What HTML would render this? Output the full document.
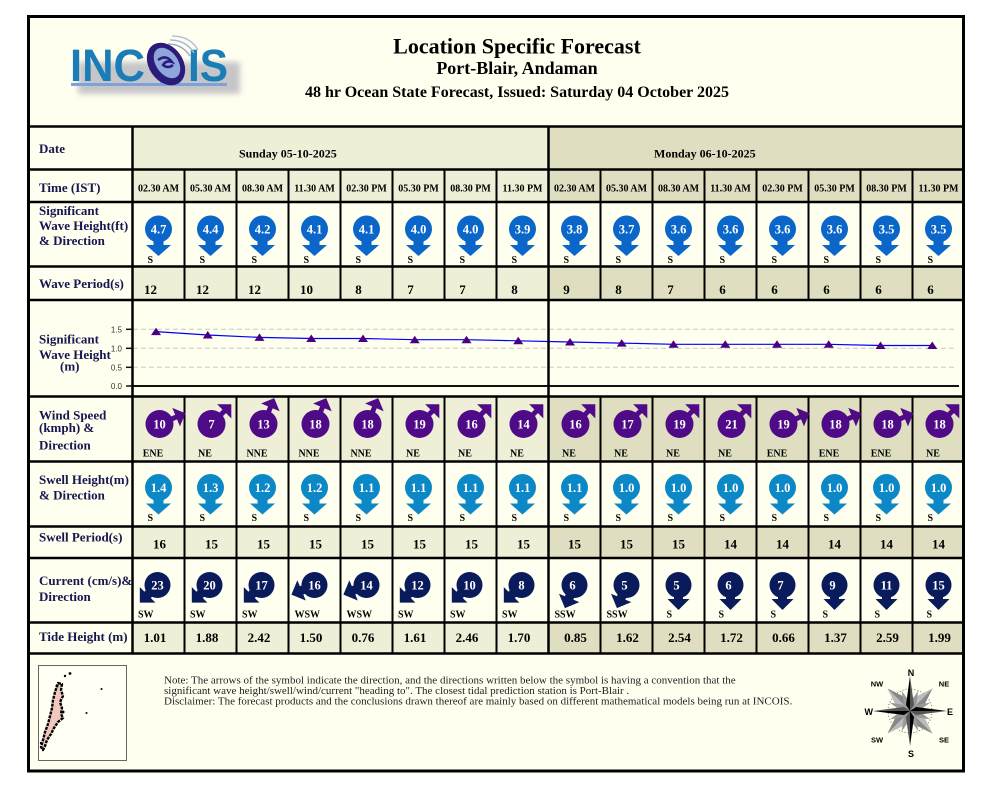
<!DOCTYPE html>
<html><head><meta charset="utf-8"><style>
html,body{margin:0;padding:0;background:#fff;width:1000px;height:800px;overflow:hidden}
svg{display:block}
</style></head><body>
<svg width="1000" height="800" viewBox="0 0 1000 800" xmlns="http://www.w3.org/2000/svg" font-family="'Liberation Serif', serif">
<defs>
 <filter id="bl" x="-20%" y="-50%" width="140%" height="200%"><feGaussianBlur stdDeviation="3"/></filter>
 <g id="bg"><circle r="13.5"/><rect x="-5" y="5" width="10" height="12"/><polygon points="-12.5,16 12.5,16 0,27"/></g>
 <g id="cu"><circle r="13"/><rect x="-4.5" y="5" width="9" height="10"/><polygon points="-11,14 11,14 0,25"/></g>
 <g id="wd"><circle r="14"/><rect x="-2.5" y="5" width="5" height="15"/><polygon points="-10,18 10,18 0,28"/></g>
</defs>

<!-- frame background -->
<rect x="28.5" y="16.5" width="935" height="754.5" fill="#FFFFF0"/>

<!-- day-shaded rows -->
<g fill="#EFEED6">
 <rect x="132.5" y="126.5" width="416" height="75.5"/>
 <rect x="132.5" y="266.5" width="416" height="33.5"/>
 <rect x="132.5" y="396.5" width="416" height="65"/>
 <rect x="132.5" y="526.5" width="416" height="31.5"/>
 <rect x="132.5" y="622.5" width="416" height="31"/>
</g>
<g fill="#DFDEC0">
 <rect x="548.5" y="126.5" width="415" height="75.5"/>
 <rect x="548.5" y="266.5" width="415" height="33.5"/>
 <rect x="548.5" y="396.5" width="415" height="65"/>
 <rect x="548.5" y="526.5" width="415" height="31.5"/>
 <rect x="548.5" y="622.5" width="415" height="31"/>
</g>

<!-- logo -->
<g>
 <g filter="url(#bl)" fill="#b8b8c0" opacity="0.8">
  <rect x="78" y="62" width="162" height="32"/>
 </g>
 <text x="70" y="81" font-family="'Liberation Sans', sans-serif" font-weight="bold" font-size="45" fill="#1A7DB6" textLength="75" lengthAdjust="spacingAndGlyphs">INC</text>
 <text x="188" y="81" font-family="'Liberation Sans', sans-serif" font-weight="bold" font-size="45" fill="#1A7DB6" textLength="40" lengthAdjust="spacingAndGlyphs">IS</text>
 <rect x="71" y="83" width="156" height="3" fill="#7FA0D8"/>
 <rect x="160" y="78" width="8" height="8" fill="#7FA0D8"/>
 <path d="M168 44 q14 0 22 12" stroke="#9aa8d0" stroke-width="1.5" fill="none"/>
 <path d="M170 40 q16 0 24 13" stroke="#aab4d8" stroke-width="1.5" fill="none"/>
 <path d="M172 36 q18 0 26 14" stroke="#b8c0e0" stroke-width="1.5" fill="none"/>
 <ellipse cx="166" cy="64" rx="17" ry="23" transform="rotate(-35 166 64)" fill="#2B1B7B"/>
 <ellipse cx="167" cy="63" rx="11" ry="17" transform="rotate(-35 167 63)" fill="#8FA6DB"/>
 <path d="M158 60 q8 -6 14 2 q-6 -2 -9 3 q5 4 10 0" stroke="#2B1B7B" stroke-width="2.5" fill="none"/>
</g>

<!-- titles -->
<g font-weight="bold" fill="#000" text-anchor="middle">
 <text x="517" y="53.5" font-size="22">Location Specific Forecast</text>
 <text x="517" y="74" font-size="18">Port-Blair, Andaman</text>
 <text x="517" y="97" font-size="16">48 hr Ocean State Forecast, Issued: Saturday 04 October 2025</text>
</g>

<!-- chart -->
<g>
 <g stroke="#c8c8c8" stroke-width="1" stroke-dasharray="5,3">
  <line x1="133" y1="329.3" x2="957" y2="329.3"/>
  <line x1="133" y1="348.3" x2="957" y2="348.3"/>
  <line x1="133" y1="367.3" x2="957" y2="367.3"/>
 </g>
 <line x1="132" y1="386" x2="959" y2="386" stroke="#111" stroke-width="2"/>
 <g stroke="#111" stroke-width="1.5">
  <line x1="126" y1="329.3" x2="132" y2="329.3"/>
  <line x1="126" y1="348.3" x2="132" y2="348.3"/>
  <line x1="126" y1="367.3" x2="132" y2="367.3"/>
  <line x1="126" y1="386" x2="132" y2="386"/>
 </g>
 <g font-family="'Liberation Sans', sans-serif" font-size="8" fill="#333" text-anchor="end">
  <text x="122" y="332.3">1.5</text>
  <text x="122" y="351.3">1.0</text>
  <text x="122" y="370.3">0.5</text>
  <text x="122" y="389">0.0</text>
 </g>
 <polyline fill="none" stroke="#0000FF" stroke-width="1.2" points="156,331.6 207.75,335 259.5,337.4 311.25,338.5 363,338.5 414.75,339.7 466.5,339.7 518.25,340.8 570,342 621.75,343.1 673.5,344.3 725.25,344.3 777,344.3 828.75,344.3 880.5,345.5 932.25,345.5"/>
 <g fill="#4B0082">
  <polygon points="151,335.1 161,335.1 156,327.6"/>
  <polygon points="202.75,338.5 212.75,338.5 207.75,331"/>
  <polygon points="254.5,340.9 264.5,340.9 259.5,333.4"/>
  <polygon points="306.25,342 316.25,342 311.25,334.5"/>
  <polygon points="358,342 368,342 363,334.5"/>
  <polygon points="409.75,343.2 419.75,343.2 414.75,335.7"/>
  <polygon points="461.5,343.2 471.5,343.2 466.5,335.7"/>
  <polygon points="513.25,344.3 523.25,344.3 518.25,336.8"/>
  <polygon points="565,345.5 575,345.5 570,338"/>
  <polygon points="616.75,346.6 626.75,346.6 621.75,339.1"/>
  <polygon points="668.5,347.8 678.5,347.8 673.5,340.3"/>
  <polygon points="720.25,347.8 730.25,347.8 725.25,340.3"/>
  <polygon points="772,347.8 782,347.8 777,340.3"/>
  <polygon points="823.75,347.8 833.75,347.8 828.75,340.3"/>
  <polygon points="875.5,349 885.5,349 880.5,341.5"/>
  <polygon points="927.25,349 937.25,349 932.25,341.5"/>
 </g>
</g>

<!-- grid lines -->
<g stroke="#000" stroke-width="2.5">
 <line x1="28.5" y1="126.5" x2="963.5" y2="126.5"/>
 <line x1="28.5" y1="169.5" x2="963.5" y2="169.5"/>
 <line x1="28.5" y1="202" x2="963.5" y2="202"/>
 <line x1="28.5" y1="266.5" x2="963.5" y2="266.5"/>
 <line x1="28.5" y1="300" x2="963.5" y2="300"/>
 <line x1="28.5" y1="396.5" x2="963.5" y2="396.5"/>
 <line x1="28.5" y1="461.5" x2="963.5" y2="461.5"/>
 <line x1="28.5" y1="526.5" x2="963.5" y2="526.5"/>
 <line x1="28.5" y1="558" x2="963.5" y2="558"/>
 <line x1="28.5" y1="622.5" x2="963.5" y2="622.5"/>
 <line x1="28.5" y1="653.5" x2="963.5" y2="653.5"/>
 <line x1="132.5" y1="126.5" x2="132.5" y2="653.5"/>
 <line x1="548.5" y1="126.5" x2="548.5" y2="653.5"/>
</g>
<g stroke="#000" stroke-width="2">
 <path d="M184.5 169.5V300M236.5 169.5V300M288.5 169.5V300M340.5 169.5V300M392.5 169.5V300M444.5 169.5V300M496.5 169.5V300M600.5 169.5V300M652.5 169.5V300M704.5 169.5V300M756.5 169.5V300M808.5 169.5V300M860.5 169.5V300M912.5 169.5V300"/>
 <path d="M184.5 396.5V653.5M236.5 396.5V653.5M288.5 396.5V653.5M340.5 396.5V653.5M392.5 396.5V653.5M444.5 396.5V653.5M496.5 396.5V653.5M600.5 396.5V653.5M652.5 396.5V653.5M704.5 396.5V653.5M756.5 396.5V653.5M808.5 396.5V653.5M860.5 396.5V653.5M912.5 396.5V653.5"/>
</g>
<rect x="28.5" y="16.5" width="935" height="754.5" fill="none" stroke="#000" stroke-width="3"/>

<!-- row labels -->
<g font-weight="bold" font-size="13" fill="#161650">
 <text x="39" y="153">Date</text>
 <text x="39" y="192">Time (IST)</text>
 <text x="39" y="215">Significant</text>
 <text x="39" y="230">Wave Height(ft)</text>
 <text x="39" y="245">&amp; Direction</text>
 <text x="39" y="288">Wave Period(s)</text>
 <text x="39" y="343.5">Significant</text>
 <text x="39" y="359">Wave Height</text>
 <text x="60" y="370.5">(m)</text>
 <text x="39" y="419.5">Wind Speed</text>
 <text x="39" y="432">(kmph) &amp;</text>
 <text x="39" y="449.5">Direction</text>
 <text x="39" y="484">Swell Height(m)</text>
 <text x="39" y="499.5">&amp; Direction</text>
 <text x="39" y="541.5">Swell Period(s)</text>
 <text x="39" y="585">Current (cm/s)&amp;</text>
 <text x="39" y="601">Direction</text>
 <text x="39" y="641">Tide Height (m)</text>
</g>

<!-- dates -->
<g font-weight="bold" font-size="12" fill="#000">
 <text x="239" y="157.5">Sunday 05-10-2025</text>
 <text x="654" y="157.5">Monday 06-10-2025</text>
</g>

<!-- times -->
<g font-weight="bold" font-size="10" fill="#000" text-anchor="middle">
 <text x="158.5" y="191.5">02.30 AM</text>
 <text x="210.5" y="191.5">05.30 AM</text>
 <text x="262.5" y="191.5">08.30 AM</text>
 <text x="314.5" y="191.5">11.30 AM</text>
 <text x="366.5" y="191.5">02.30 PM</text>
 <text x="418.5" y="191.5">05.30 PM</text>
 <text x="470.5" y="191.5">08.30 PM</text>
 <text x="522.5" y="191.5">11.30 PM</text>
 <text x="574.5" y="191.5">02.30 AM</text>
 <text x="626.5" y="191.5">05.30 AM</text>
 <text x="678.5" y="191.5">08.30 AM</text>
 <text x="730.5" y="191.5">11.30 AM</text>
 <text x="782.5" y="191.5">02.30 PM</text>
 <text x="834.5" y="191.5">05.30 PM</text>
 <text x="886.5" y="191.5">08.30 PM</text>
 <text x="938.5" y="191.5">11.30 PM</text>
</g>

<!-- wave height icons -->
<g fill="#0A66C8">
 <use href="#bg" x="158.5" y="229"/><use href="#bg" x="210.5" y="229"/><use href="#bg" x="262.5" y="229"/><use href="#bg" x="314.5" y="229"/>
 <use href="#bg" x="366.5" y="229"/><use href="#bg" x="418.5" y="229"/><use href="#bg" x="470.5" y="229"/><use href="#bg" x="522.5" y="229"/>
 <use href="#bg" x="574.5" y="229"/><use href="#bg" x="626.5" y="229"/><use href="#bg" x="678.5" y="229"/><use href="#bg" x="730.5" y="229"/>
 <use href="#bg" x="782.5" y="229"/><use href="#bg" x="834.5" y="229"/><use href="#bg" x="886.5" y="229"/><use href="#bg" x="938.5" y="229"/>
</g>
<g font-weight="bold" font-size="12.5" fill="#fff" text-anchor="middle">
 <text x="158.5" y="233.5">4.7</text><text x="210.5" y="233.5">4.4</text><text x="262.5" y="233.5">4.2</text><text x="314.5" y="233.5">4.1</text>
 <text x="366.5" y="233.5">4.1</text><text x="418.5" y="233.5">4.0</text><text x="470.5" y="233.5">4.0</text><text x="522.5" y="233.5">3.9</text>
 <text x="574.5" y="233.5">3.8</text><text x="626.5" y="233.5">3.7</text><text x="678.5" y="233.5">3.6</text><text x="730.5" y="233.5">3.6</text>
 <text x="782.5" y="233.5">3.6</text><text x="834.5" y="233.5">3.6</text><text x="886.5" y="233.5">3.5</text><text x="938.5" y="233.5">3.5</text>
</g>
<g font-weight="bold" font-size="10" fill="#000">
 <text x="147.5" y="263">S</text><text x="199.5" y="263">S</text><text x="251.5" y="263">S</text><text x="303.5" y="263">S</text>
 <text x="355.5" y="263">S</text><text x="407.5" y="263">S</text><text x="459.5" y="263">S</text><text x="511.5" y="263">S</text>
 <text x="563.5" y="263">S</text><text x="615.5" y="263">S</text><text x="667.5" y="263">S</text><text x="719.5" y="263">S</text>
 <text x="771.5" y="263">S</text><text x="823.5" y="263">S</text><text x="875.5" y="263">S</text><text x="927.5" y="263">S</text>
</g>

<!-- wave period -->
<g font-weight="bold" font-size="13" fill="#000" text-anchor="middle">
 <text x="150.5" y="294">12</text><text x="202.5" y="294">12</text><text x="254.5" y="294">12</text><text x="306.5" y="294">10</text>
 <text x="358.5" y="294">8</text><text x="410.5" y="294">7</text><text x="462.5" y="294">7</text><text x="514.5" y="294">8</text>
 <text x="566.5" y="294">9</text><text x="618.5" y="294">8</text><text x="670.5" y="294">7</text><text x="722.5" y="294">6</text>
 <text x="774.5" y="294">6</text><text x="826.5" y="294">6</text><text x="878.5" y="294">6</text><text x="930.5" y="294">6</text>
</g>

<!-- wind icons -->
<g fill="#4F0A87">
 <use href="#wd" transform="translate(159.5,424) rotate(-112.5)"/>
 <use href="#wd" transform="translate(211.5,424) rotate(-135)"/>
 <use href="#wd" transform="translate(263.5,424) rotate(-157.5)"/>
 <use href="#wd" transform="translate(315.5,424) rotate(-157.5)"/>
 <use href="#wd" transform="translate(367.5,424) rotate(-157.5)"/>
 <use href="#wd" transform="translate(419.5,424) rotate(-135)"/>
 <use href="#wd" transform="translate(471.5,424) rotate(-135)"/>
 <use href="#wd" transform="translate(523.5,424) rotate(-135)"/>
 <use href="#wd" transform="translate(575.5,424) rotate(-135)"/>
 <use href="#wd" transform="translate(627.5,424) rotate(-135)"/>
 <use href="#wd" transform="translate(679.5,424) rotate(-135)"/>
 <use href="#wd" transform="translate(731.5,424) rotate(-135)"/>
 <use href="#wd" transform="translate(783.5,424) rotate(-112.5)"/>
 <use href="#wd" transform="translate(835.5,424) rotate(-112.5)"/>
 <use href="#wd" transform="translate(887.5,424) rotate(-112.5)"/>
 <use href="#wd" transform="translate(939.5,424) rotate(-135)"/>
</g>
<g font-weight="bold" font-size="12.5" fill="#fff" text-anchor="middle">
 <text x="159.5" y="428.5">10</text><text x="211.5" y="428.5">7</text><text x="263.5" y="428.5">13</text><text x="315.5" y="428.5">18</text>
 <text x="367.5" y="428.5">18</text><text x="419.5" y="428.5">19</text><text x="471.5" y="428.5">16</text><text x="523.5" y="428.5">14</text>
 <text x="575.5" y="428.5">16</text><text x="627.5" y="428.5">17</text><text x="679.5" y="428.5">19</text><text x="731.5" y="428.5">21</text>
 <text x="783.5" y="428.5">19</text><text x="835.5" y="428.5">18</text><text x="887.5" y="428.5">18</text><text x="939.5" y="428.5">18</text>
</g>
<g font-weight="bold" font-size="10" fill="#000" text-anchor="middle">
 <text x="153" y="456.5">ENE</text><text x="205" y="456.5">NE</text><text x="257" y="456.5">NNE</text><text x="309" y="456.5">NNE</text>
 <text x="361" y="456.5">NNE</text><text x="413" y="456.5">NE</text><text x="465" y="456.5">NE</text><text x="517" y="456.5">NE</text>
 <text x="569" y="456.5">NE</text><text x="621" y="456.5">NE</text><text x="673" y="456.5">NE</text><text x="725" y="456.5">NE</text>
 <text x="777" y="456.5">ENE</text><text x="829" y="456.5">ENE</text><text x="881" y="456.5">ENE</text><text x="933" y="456.5">NE</text>
</g>

<!-- swell icons -->
<g fill="#0D88C6">
 <use href="#bg" x="158.5" y="487.5"/><use href="#bg" x="210.5" y="487.5"/><use href="#bg" x="262.5" y="487.5"/><use href="#bg" x="314.5" y="487.5"/>
 <use href="#bg" x="366.5" y="487.5"/><use href="#bg" x="418.5" y="487.5"/><use href="#bg" x="470.5" y="487.5"/><use href="#bg" x="522.5" y="487.5"/>
 <use href="#bg" x="574.5" y="487.5"/><use href="#bg" x="626.5" y="487.5"/><use href="#bg" x="678.5" y="487.5"/><use href="#bg" x="730.5" y="487.5"/>
 <use href="#bg" x="782.5" y="487.5"/><use href="#bg" x="834.5" y="487.5"/><use href="#bg" x="886.5" y="487.5"/><use href="#bg" x="938.5" y="487.5"/>
</g>
<g font-weight="bold" font-size="12.5" fill="#fff" text-anchor="middle">
 <text x="158.5" y="492">1.4</text><text x="210.5" y="492">1.3</text><text x="262.5" y="492">1.2</text><text x="314.5" y="492">1.2</text>
 <text x="366.5" y="492">1.1</text><text x="418.5" y="492">1.1</text><text x="470.5" y="492">1.1</text><text x="522.5" y="492">1.1</text>
 <text x="574.5" y="492">1.1</text><text x="626.5" y="492">1.0</text><text x="678.5" y="492">1.0</text><text x="730.5" y="492">1.0</text>
 <text x="782.5" y="492">1.0</text><text x="834.5" y="492">1.0</text><text x="886.5" y="492">1.0</text><text x="938.5" y="492">1.0</text>
</g>
<g font-weight="bold" font-size="10" fill="#000">
 <text x="147.5" y="521">S</text><text x="199.5" y="521">S</text><text x="251.5" y="521">S</text><text x="303.5" y="521">S</text>
 <text x="355.5" y="521">S</text><text x="407.5" y="521">S</text><text x="459.5" y="521">S</text><text x="511.5" y="521">S</text>
 <text x="563.5" y="521">S</text><text x="615.5" y="521">S</text><text x="667.5" y="521">S</text><text x="719.5" y="521">S</text>
 <text x="771.5" y="521">S</text><text x="823.5" y="521">S</text><text x="875.5" y="521">S</text><text x="927.5" y="521">S</text>
</g>

<!-- swell period -->
<g font-weight="bold" font-size="13" fill="#000" text-anchor="middle">
 <text x="159.5" y="548.5">16</text><text x="211.5" y="548.5">15</text><text x="263.5" y="548.5">15</text><text x="315.5" y="548.5">15</text>
 <text x="367.5" y="548.5">15</text><text x="419.5" y="548.5">15</text><text x="471.5" y="548.5">15</text><text x="523.5" y="548.5">15</text>
 <text x="574.5" y="548.5">15</text><text x="626.5" y="548.5">15</text><text x="678.5" y="548.5">15</text><text x="730.5" y="548.5">14</text>
 <text x="782.5" y="548.5">14</text><text x="834.5" y="548.5">14</text><text x="886.5" y="548.5">14</text><text x="938.5" y="548.5">14</text>
</g>

<!-- current icons -->
<g fill="#0A1B5C">
 <use href="#cu" transform="translate(157.5,585) rotate(45)"/>
 <use href="#cu" transform="translate(209.5,585) rotate(45)"/>
 <use href="#cu" transform="translate(261.5,585) rotate(45)"/>
 <use href="#cu" transform="translate(314.5,585) rotate(67.5)"/>
 <use href="#cu" transform="translate(366.5,585) rotate(67.5)"/>
 <use href="#cu" transform="translate(417.5,585) rotate(45)"/>
 <use href="#cu" transform="translate(469.5,585) rotate(45)"/>
 <use href="#cu" transform="translate(521.5,585) rotate(45)"/>
 <use href="#cu" transform="translate(574.5,585) rotate(22.5)"/>
 <use href="#cu" transform="translate(626.5,585) rotate(22.5)"/>
 <use href="#cu" transform="translate(678.5,585)"/>
 <use href="#cu" transform="translate(730.5,585)"/>
 <use href="#cu" transform="translate(782.5,585)"/>
 <use href="#cu" transform="translate(834.5,585)"/>
 <use href="#cu" transform="translate(886.5,585)"/>
 <use href="#cu" transform="translate(938.5,585)"/>
</g>
<g font-weight="bold" font-size="12.5" fill="#fff" text-anchor="middle">
 <text x="157.5" y="589.5">23</text><text x="209.5" y="589.5">20</text><text x="261.5" y="589.5">17</text><text x="314.5" y="589.5">16</text>
 <text x="366.5" y="589.5">14</text><text x="417.5" y="589.5">12</text><text x="469.5" y="589.5">10</text><text x="521.5" y="589.5">8</text>
 <text x="572.5" y="589.5">6</text><text x="624.5" y="589.5">5</text><text x="676.5" y="589.5">5</text><text x="728.5" y="589.5">6</text>
 <text x="780.5" y="589.5">7</text><text x="832.5" y="589.5">9</text><text x="886.5" y="589.5">11</text><text x="938.5" y="589.5">15</text>
</g>
<g font-weight="bold" font-size="10" fill="#000">
 <text x="138" y="617.5">SW</text><text x="190" y="617.5">SW</text><text x="242" y="617.5">SW</text><text x="294.5" y="617.5">WSW</text>
 <text x="346.5" y="617.5">WSW</text><text x="398" y="617.5">SW</text><text x="450" y="617.5">SW</text><text x="502" y="617.5">SW</text>
 <text x="554.5" y="617.5">SSW</text><text x="606.5" y="617.5">SSW</text><text x="666.5" y="617.5">S</text><text x="718.5" y="617.5">S</text>
 <text x="770.5" y="617.5">S</text><text x="822.5" y="617.5">S</text><text x="874.5" y="617.5">S</text><text x="926.5" y="617.5">S</text>
</g>

<!-- tide -->
<g font-weight="bold" font-size="13" fill="#000" text-anchor="middle">
 <text x="155" y="642">1.01</text><text x="207" y="642">1.88</text><text x="259" y="642">2.42</text><text x="311" y="642">1.50</text>
 <text x="363" y="642">0.76</text><text x="415" y="642">1.61</text><text x="467" y="642">2.46</text><text x="519" y="642">1.70</text>
 <text x="575.5" y="642">0.85</text><text x="627.5" y="642">1.62</text><text x="679.5" y="642">2.54</text><text x="731.5" y="642">1.72</text>
 <text x="783.5" y="642">0.66</text><text x="835.5" y="642">1.37</text><text x="887.5" y="642">2.59</text><text x="939.5" y="642">1.99</text>
</g>

<!-- map inset -->
<rect x="38.5" y="665.5" width="88" height="95" fill="#FFFFF4" stroke="#666" stroke-width="1"/>
<g fill="#F2C8BE" stroke="#000" stroke-width="2.4" stroke-linejoin="round" stroke-dasharray="3,1">
 <path d="M58 683 L62 684 L61 690 L63 696 L60 702 L62 708 L61 714 L63 718 L58 722 L54 728 L51 734 L47 740 L45 746 L43 750 L41 747 L43 740 L45 732 L48 724 L50 716 L52 708 L53 700 L55 692 Z"/>
</g>
<g fill="#000">
 <circle cx="65" cy="676" r="1.2"/><circle cx="70" cy="673.5" r="1.4"/>
 <circle cx="101.5" cy="689" r="1"/><circle cx="86.5" cy="713" r="1"/>
 <circle cx="41" cy="743" r="1.2"/><circle cx="63" cy="712" r="1.5"/><circle cx="57" cy="686" r="1.5"/>
</g>

<!-- notes -->
<g font-size="11" fill="#222">
 <text x="164" y="683.5">Note: The arrows of the symbol indicate the direction, and the directions written below the symbol is having a convention that the</text>
 <text x="164" y="694">significant wave height/swell/wind/current "heading to". The closest tidal prediction station is Port-Blair .</text>
 <text x="164" y="704.5">Disclaimer: The forecast products and the conclusions drawn thereof are mainly based on different mathematical models being run at INCOIS.</text>
</g>

<!-- compass -->
<g transform="translate(910,711)">
 <circle r="22" fill="none" stroke="#555" stroke-width="0.8" stroke-dasharray="1,2"/>
 <g transform="rotate(45)"><polygon points="0,-32 -8,-8 0,0" fill="#bbb"/><polygon points="0,-32 8,-8 0,0" fill="#888"/></g>
 <g transform="rotate(135)"><polygon points="0,-32 -8,-8 0,0" fill="#bbb"/><polygon points="0,-32 8,-8 0,0" fill="#888"/></g>
 <g transform="rotate(225)"><polygon points="0,-32 -8,-8 0,0" fill="#bbb"/><polygon points="0,-32 8,-8 0,0" fill="#888"/></g>
 <g transform="rotate(315)"><polygon points="0,-32 -8,-8 0,0" fill="#bbb"/><polygon points="0,-32 8,-8 0,0" fill="#888"/></g>
 <g transform="rotate(22.5)"><polygon points="0,-22 -4,-5 0,0 4,-5" fill="#999"/></g>
 <g transform="rotate(67.5)"><polygon points="0,-22 -4,-5 0,0 4,-5" fill="#999"/></g>
 <g transform="rotate(112.5)"><polygon points="0,-22 -4,-5 0,0 4,-5" fill="#999"/></g>
 <g transform="rotate(157.5)"><polygon points="0,-22 -4,-5 0,0 4,-5" fill="#999"/></g>
 <g transform="rotate(202.5)"><polygon points="0,-22 -4,-5 0,0 4,-5" fill="#999"/></g>
 <g transform="rotate(247.5)"><polygon points="0,-22 -4,-5 0,0 4,-5" fill="#999"/></g>
 <g transform="rotate(292.5)"><polygon points="0,-22 -4,-5 0,0 4,-5" fill="#999"/></g>
 <g transform="rotate(337.5)"><polygon points="0,-22 -4,-5 0,0 4,-5" fill="#999"/></g>
 <g><polygon points="0,-35 -4,-6 0,0" fill="#000"/><polygon points="0,-35 4,-6 0,0" fill="#555"/></g>
 <g transform="rotate(90)"><polygon points="0,-37 -4,-6 0,0" fill="#000"/><polygon points="0,-37 4,-6 0,0" fill="#555"/></g>
 <g transform="rotate(180)"><polygon points="0,-35 -4,-6 0,0" fill="#000"/><polygon points="0,-35 4,-6 0,0" fill="#555"/></g>
 <g transform="rotate(270)"><polygon points="0,-37 -4,-6 0,0" fill="#000"/><polygon points="0,-37 4,-6 0,0" fill="#555"/></g>
</g>
<g font-family="'Liberation Sans', sans-serif" font-weight="bold" fill="#000">
 <text x="911" y="676" font-size="9" text-anchor="middle">N</text>
 <text x="911" y="757" font-size="9" text-anchor="middle">S</text>
 <text x="873" y="715" font-size="9" text-anchor="end">W</text>
 <text x="947" y="715" font-size="9">E</text>
 <text x="877" y="686.5" font-size="7.5" text-anchor="middle">NW</text>
 <text x="944" y="686.5" font-size="7.5" text-anchor="middle">NE</text>
 <text x="877" y="742.5" font-size="7.5" text-anchor="middle">SW</text>
 <text x="944" y="742.5" font-size="7.5" text-anchor="middle">SE</text>
</g>
</svg>
</body></html>
